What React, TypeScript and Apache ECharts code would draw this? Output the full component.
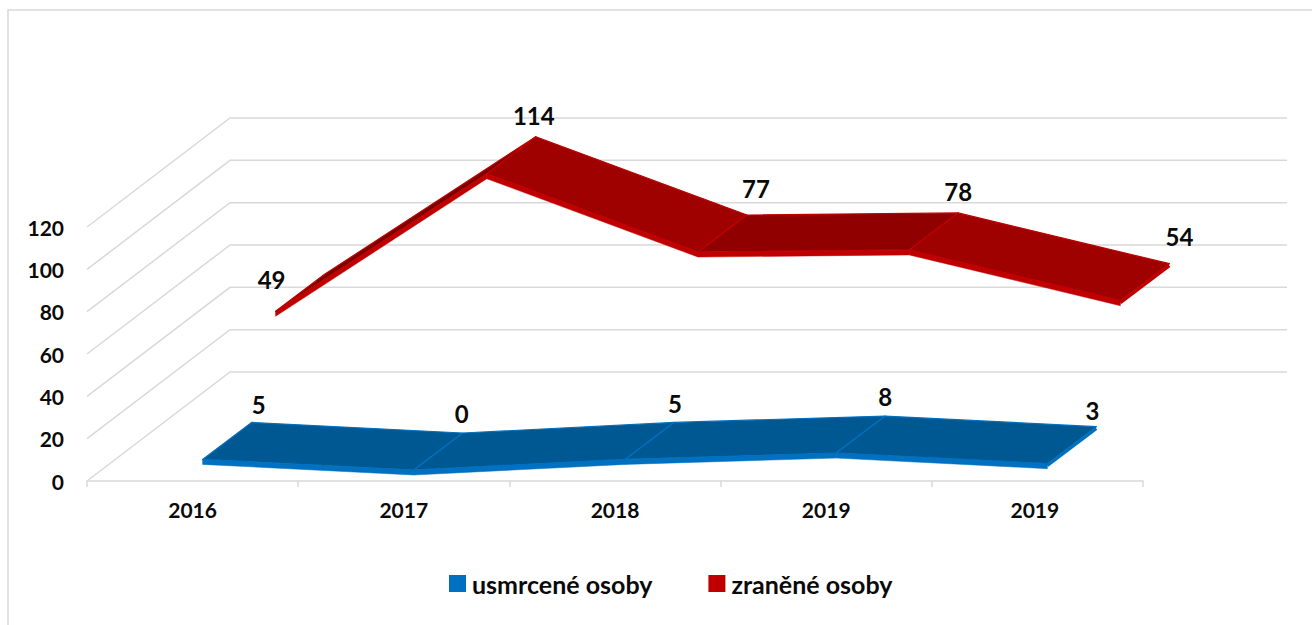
import React, { useEffect, useRef } from "react";
import * as echarts from "echarts";

const categories = ["2016", "2017", "2018", "2019", "2019 "];
const killed = [5, 0, 5, 8, 3];
const injured = [49, 114, 77, 78, 54];
const yTicks = [0, 20, 40, 60, 80, 100, 120];

const FONT = "Lato";
const GRID_COLOR = "#d9d9d9";
const TEXT = "#0a0a0a";

// Fixed 3D projection of the Excel chart (pixels, relative to the front plane)
const WALL = { dx: 143, dy: -109, right: 1287 };
const killedDepth = { fx: 10, fy: -11, bx: 59, by: -48, lip: 5 };
const injuredDepth = { fx: 83, fy: -66, bx: 132, by: -103, lip: 5 };
const killedLabelNudge = [[7, -18], [-1, -20], [1, -19], [0, -20], [-4, -16]];
const injuredLabelNudge = [[-53, 5], [-2, -21], [9, -27], [0, -21], [10, -27]];

function pointLabel(v: number, anchor: number[], n: number[]) {
  return {
    type: "text",
    z2: 10,
    style: {
      x: anchor[0] + n[0],
      y: anchor[1] + n[1],
      text: String(v),
      font: `bold 24px ${FONT}`,
      fill: TEXT,
      align: "center",
      verticalAlign: "middle",
    },
  };
}

function ribbon(
  name: string,
  values: number[],
  depth: typeof killedDepth,
  lipColor: string,
  faceOf: (slope: number) => string,
  nudge: number[][]
) {
  const data = values.slice(0, -1).map((v, i) => [i, v, values[i + 1]]);
  return {
    type: "custom",
    name,
    coordinateSystem: "cartesian2d",
    itemStyle: { color: lipColor },
    data,
    encode: { x: 0, y: 1 },
    silent: true,
    z: 3,
    renderItem: (_p: any, api: any) => {
      const i = api.value(0);
      const a = api.coord([i, api.value(1)]);
      const b = api.coord([i + 1, api.value(2)]);
      const fa = [a[0] + depth.fx, a[1] + depth.fy];
      const fb = [b[0] + depth.fx, b[1] + depth.fy];
      const ba = [a[0] + depth.bx, a[1] + depth.by];
      const bb = [b[0] + depth.bx, b[1] + depth.by];
      const slope = (fb[1] - fa[1]) / (fb[0] - fa[0]);
      const children: any[] = [
        {
          type: "polygon",
          shape: { points: [fa, fb, bb, ba] },
          style: { fill: faceOf(slope), stroke: lipColor, lineWidth: 1.2, lineJoin: "round" },
        },
        {
          type: "polygon",
          shape: {
            points: [fa, fb, [fb[0], fb[1] + depth.lip], [fa[0], fa[1] + depth.lip]],
          },
          style: { fill: lipColor, stroke: lipColor, lineWidth: 0.5 },
        },
      ];
      if (i === 0) {
        children.push(pointLabel(values[0], ba, nudge[0]));
      }
      if (i === values.length - 2) {
        children.push({
          type: "line",
          shape: { x1: fb[0], y1: fb[1] + 2, x2: bb[0], y2: bb[1] + 2 },
          style: { stroke: lipColor, lineWidth: 3 },
        });
      }
      children.push(pointLabel(values[i + 1], bb, nudge[i + 1]));
      return { type: "group", children };
    },
  };
}

export default function App() {
  const ref = useRef<HTMLDivElement>(null);
  useEffect(() => {
    const chart = echarts.init(ref.current!, null, { renderer: "svg" });
    const option: any = {
      animation: false,
      backgroundColor: "#ffffff",
      textStyle: { fontFamily: FONT },
      graphic: [
        {
          type: "polyline",
          shape: { points: [[8, 625], [8, 10], [1312, 10]] },
          style: { fill: "none", stroke: GRID_COLOR, lineWidth: 1.5 },
        },
      ],
      grid: { left: 87, right: 169, top: 227, height: 254, containLabel: false },
      legend: {
        left: 444,
        top: 566,
        itemWidth: 17,
        itemHeight: 17,
        itemGap: 56,
        icon: "rect",
        data: ["usmrcené osoby", "zraněné osoby"],
        textStyle: { fontFamily: FONT, fontWeight: "bold", fontSize: 25, color: TEXT, padding: [0, 0, 0, 1] },
      },
      xAxis: {
        type: "category",
        data: categories,
        boundaryGap: true,
        axisLine: { lineStyle: { color: GRID_COLOR, width: 1.5 } },
        axisTick: { show: true, length: 6, lineStyle: { color: GRID_COLOR, width: 1.5 } },
        axisLabel: { fontFamily: FONT, fontWeight: "bold", fontSize: 21, color: TEXT, margin: 18 },
      },
      yAxis: {
        type: "value",
        min: 0,
        max: 120,
        interval: 20,
        axisLine: { show: false },
        axisTick: { show: false },
        splitLine: { show: false },
        axisLabel: { fontFamily: FONT, fontWeight: "bold", fontSize: 21, color: TEXT, margin: 23 },
      },
      series: [
        {
          type: "custom",
          name: "walls",
          coordinateSystem: "cartesian2d",
          silent: true,
          z: 1,
          data: yTicks.map((t) => [0, t]),
          encode: { x: 0, y: 1 },
          renderItem: (_p: any, api: any) => {
            const y = api.coord([0, api.value(1)])[1];
            const x0 = _p.coordSys.x;
            return {
              type: "polyline",
              shape: {
                points: [
                  [x0, y],
                  [x0 + WALL.dx, y + WALL.dy],
                  [WALL.right, y + WALL.dy],
                ],
              },
              style: { fill: "none", stroke: GRID_COLOR, lineWidth: 1.5 },
            };
          },
        },
        ribbon("usmrcené osoby", killed, killedDepth, "#0070c0", () => "#005892", killedLabelNudge),
        ribbon(
          "zraněné osoby",
          injured,
          injuredDepth,
          "#c00000",
          (s) => (s < -0.3 ? "#7a0000" : Math.abs(s) < 0.05 ? "#900000" : "#9f0000"),
          injuredLabelNudge
        ),
      ],
    };
    chart.setOption(option);
    return () => chart.dispose();
  }, []);
  return <div ref={ref} style={{ position: "absolute", left: 0, top: 0, width: 1312, height: 625 }} />;
}
